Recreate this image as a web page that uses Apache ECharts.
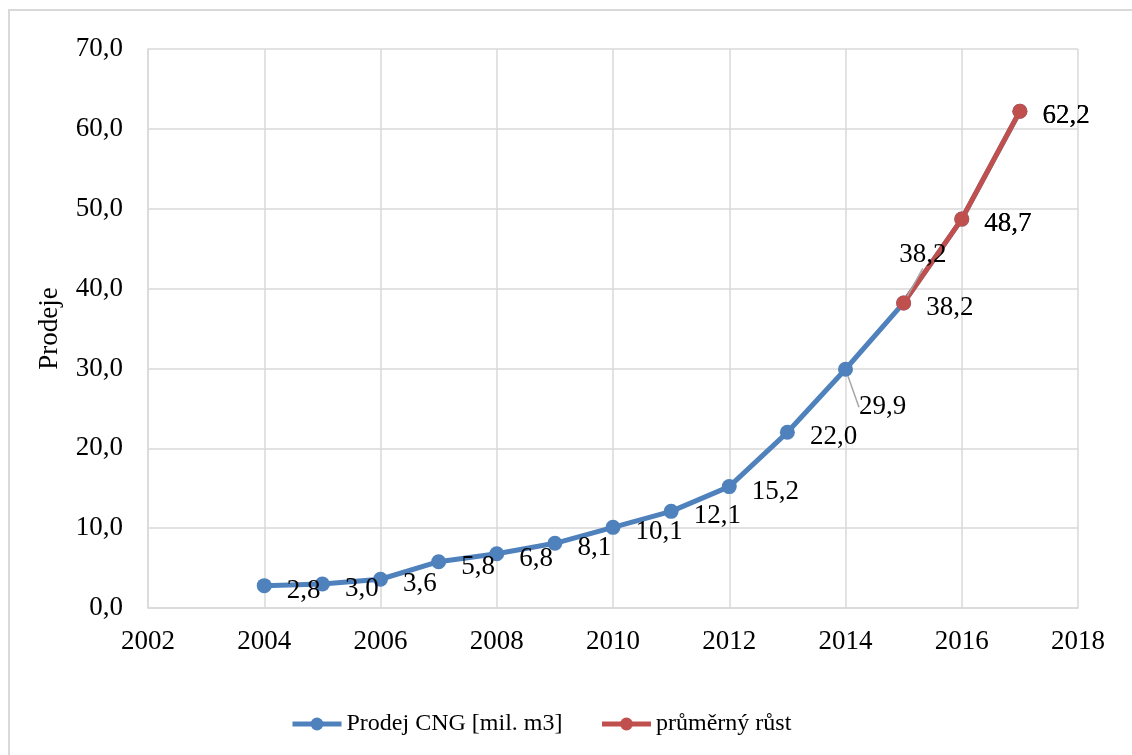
<!DOCTYPE html>
<html>
<head>
<meta charset="utf-8">
<script src="https://cdn.jsdelivr.net/npm/echarts@6/dist/echarts.min.js"></script>
<style>
  html, body { margin: 0; padding: 0; background: #fff; }
  #chart { width: 1132px; height: 755px; }
</style>
</head>
<body>
<div id="chart"></div>
<script>
// Annual CNG sales (mil. m3)
var years = [2004, 2005, 2006, 2007, 2008, 2009, 2010, 2011, 2012, 2013, 2014, 2015, 2016, 2017];
var sales = [2.8, 3.0, 3.6, 5.8, 6.8, 8.1, 10.1, 12.1, 15.2, 22.0, 29.9, 38.2, 48.7, 62.2];

// Projection by average growth
var growthYears = [2015, 2016, 2017];
var growthValues = [38.2, 48.7, 62.2];

var xTicks = { min: 2002, max: 2018, step: 2 };
var yTicks = { min: 0, max: 70, step: 10 };

var FONT = '"Liberation Serif", "Times New Roman", serif';
var GRID = '#d9d9d9';
var BLUE = '#4f81bd';
var RED = '#c0504d';

function fmt(v) { return v.toFixed(1).replace('.', ','); }
function pairs(xs, ys) { return xs.map(function (x, i) { return [x, ys[i]]; }); }

var labelBase = {
  show: true,
  position: 'right',
  distance: 15,
  color: '#000',
  fontFamily: FONT,
  fontSize: 27,
  formatter: function (p) { return fmt(p.value[1]); }
};

var chart = echarts.init(document.getElementById('chart'), null, { renderer: 'canvas' });

var salesData = pairs(years, sales).map(function (d, i) {
  var item = { value: d };
  if (years[i] === 2014) item.labelLine = { show: true };
  return item;
});
var growthData = pairs(growthYears, growthValues).map(function (d, i) {
  var item = { value: d };
  if (i === 0) item.labelLine = { show: true };
  return item;
});

chart.setOption({
  animation: false,
  backgroundColor: '#fff',
  graphic: [{
    type: 'rect',
    shape: { x: 9, y: 10, width: 1140, height: 760 },
    style: { fill: 'none', stroke: GRID, lineWidth: 2 },
    silent: true
  }],
  grid: { left: 148, top: 49, right: 54, bottom: 147, containLabel: false },
  xAxis: {
    type: 'value',
    min: xTicks.min, max: xTicks.max, interval: xTicks.step,
    axisLine: { show: true, lineStyle: { color: GRID, width: 1.5 } },
    axisTick: { show: false },
    splitLine: { show: true, lineStyle: { color: GRID, width: 1.5 } },
    axisLabel: {
      color: '#000', fontFamily: FONT, fontSize: 27, margin: 20,
      formatter: function (v) { return String(v); }
    }
  },
  yAxis: {
    type: 'value',
    min: yTicks.min, max: yTicks.max, interval: yTicks.step,
    name: 'Prodeje',
    nameLocation: 'middle',
    nameGap: 85,
    nameTextStyle: { color: '#000', fontFamily: FONT, fontSize: 27 },
    axisLine: { show: true, lineStyle: { color: GRID, width: 1.5 } },
    axisTick: { show: false },
    splitLine: { show: true, lineStyle: { color: GRID, width: 1.5 } },
    axisLabel: {
      color: '#000', fontFamily: FONT, fontSize: 27, margin: 25,
      formatter: function (v) { return fmt(v); }
    }
  },
  legend: {
    left: 285,
    top: 707,
    itemWidth: 49,
    itemHeight: 16,
    itemGap: 37,
    lineStyle: { width: 5 },
    textStyle: { color: '#000', fontFamily: FONT, fontSize: 24 },
    data: ['Prodej CNG [mil. m3]', 'průměrný růst']
  },
  series: [
    {
      name: 'Prodej CNG [mil. m3]',
      type: 'line',
      data: salesData,
      symbol: 'circle',
      symbolSize: 15,
      itemStyle: { color: BLUE },
      lineStyle: { color: BLUE, width: 5 },
      label: labelBase,
      labelLine: { lineStyle: { color: '#a6a6a6', width: 1.5 } },
      labelLayout: function (p) {
        if (p.dataIndex === 10) return { dx: -9, dy: 38 };
        return { dy: 5 };
      },
      z: 2
    },
    {
      name: 'průměrný růst',
      type: 'line',
      data: growthData,
      symbol: 'circle',
      symbolSize: 15,
      itemStyle: { color: RED },
      lineStyle: { color: RED, width: 5 },
      label: labelBase,
      labelLine: { lineStyle: { color: '#a6a6a6', width: 1.5 } },
      labelLayout: function (p) {
        if (p.dataIndex === 0) return { dx: -27, dy: -48 };
        return { dy: 5 };
      },
      z: 3
    }
  ]
});
</script>
</body>
</html>
